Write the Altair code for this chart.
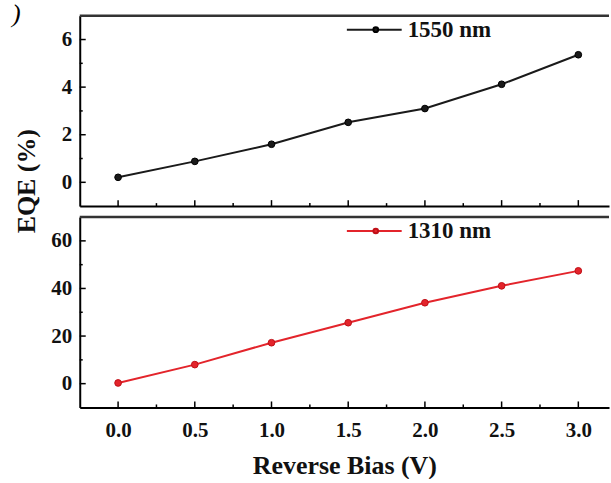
import altair as alt
import pandas as pd

bias = [0.0, 0.5, 1.0, 1.5, 2.0, 2.5, 3.0]
eqe_1550 = [0.21, 0.88, 1.60, 2.52, 3.10, 4.12, 5.36]
eqe_1310 = [0.3, 8.0, 17.2, 25.6, 34.0, 41.1, 47.4]
x_major = [0.0, 0.5, 1.0, 1.5, 2.0, 2.5, 3.0]
x_minor = [0.25, 0.75, 1.25, 1.75, 2.25, 2.75]
top_major = [0, 2, 4, 6]
top_minor = [1, 3, 5]
bot_major = [0, 20, 40, 60]
bot_minor = [10, 30, 50]
series_labels = ["1550 nm", "1310 nm"]
y_title = "EQE (%)"
x_title = "Reverse Bias (V)"
panel_mark = ")"

W, H = 531, 191
FONT = "Liberation Serif"
xscale = alt.Scale(domain=[-0.25, 3.2], nice=False, zero=False)


def panel(values, color, stroke, ydom, ymaj, ymin, label, bottom, extras=()):
    yscale = alt.Scale(domain=ydom, nice=False, zero=False)
    axis_kw = dict(
        ticks=False, grid=False, domain=True, domainColor="black", domainWidth=2,
        labelFont=FONT, labelFontSize=21, labelFontWeight="bold", labelColor="#111",
    )
    if bottom:
        xaxis = alt.Axis(values=x_major, format=".1f", labels=True, title=x_title,
                         labelPadding=12, titleFont=FONT, titleFontSize=26,
                         titleFontWeight="bold", titleColor="#111", titlePadding=12,
                         **axis_kw)
    else:
        xaxis = alt.Axis(values=x_major, labels=False, title=None, **axis_kw)
    yaxis = alt.Axis(values=ymaj, format="d", title=None, labelPadding=8, **axis_kw)

    df = pd.DataFrame({"bias": bias, "eqe": values})
    line = alt.Chart(df).mark_line(color=color, strokeWidth=2).encode(
        x=alt.X("bias:Q", scale=xscale, axis=xaxis),
        y=alt.Y("eqe:Q", scale=yscale, axis=yaxis),
    )
    pts = alt.Chart(df).mark_circle(size=45, color=color, stroke=stroke,
                                    strokeWidth=1, opacity=1).encode(
        x=alt.X("bias:Q"),
        y=alt.Y("eqe:Q"),
    )
    layers = [line, pts]
    for vals, ln in ((x_major, 6), (x_minor, 3)):
        layers.append(
            alt.Chart(pd.DataFrame({"bias": vals})).mark_rule(color="black", strokeWidth=1.5).encode(
                x=alt.X("bias:Q"),
                y=alt.value(H), y2=alt.value(H - ln),
            )
        )
    for vals, ln in ((ymaj, 6), (ymin, 3)):
        layers.append(
            alt.Chart(pd.DataFrame({"eqe": vals})).mark_rule(color="black", strokeWidth=1.5).encode(
                y=alt.Y("eqe:Q"),
                x=alt.value(0), x2=alt.value(ln),
            )
        )
    one = pd.DataFrame({"label": [label]})
    layers.append(alt.Chart(one).mark_rule(color="#333", strokeWidth=2.5).encode(
        x=alt.value(0), x2=alt.value(W), y=alt.value(0)))
    layers.append(alt.Chart(one).mark_rule(color=color, strokeWidth=2).encode(
        x=alt.value(268), x2=alt.value(323), y=alt.value(14)))
    layers.append(alt.Chart(one).mark_circle(size=22, color=color, stroke=stroke,
                                             opacity=1).encode(
        x=alt.value(297), y=alt.value(14)))
    layers.append(alt.Chart(one).mark_text(align="left", baseline="middle", font=FONT,
                                           fontSize=23, fontWeight="bold", color="#111").encode(
        x=alt.value(329), y=alt.value(14), text="label:N"))
    layers.extend(extras)
    return alt.layer(*layers).properties(width=W, height=H)


paren = alt.Chart(pd.DataFrame({"t": [panel_mark]})).mark_text(
    align="left", baseline="bottom", font=FONT, fontSize=26, fontStyle="italic",
    color="black").encode(x=alt.value(-68), y=alt.value(11), text="t:N")
ytitle = alt.Chart(pd.DataFrame({"t": [y_title]})).mark_text(
    angle=270, align="center", baseline="middle", font=FONT, fontSize=26,
    fontWeight="bold", color="#111").encode(x=alt.value(-53), y=alt.value(166), text="t:N")

top = panel(eqe_1550, "#1a1a1a", "#000000", [-1, 7], top_major, top_minor,
            series_labels[0], False, extras=(paren, ytitle))
bot = panel(eqe_1310, "#e3242b", "#c01018", [-10, 70], bot_major, bot_minor,
            series_labels[1], True)

chart = alt.vconcat(top, bot, spacing=11, bounds="flush").properties(
    padding={"left": 12, "top": 0, "right": 0, "bottom": 0},
    background="white",
).configure_view(stroke=None)

chart.save("out.html", embed_options={"renderer": "svg", "actions": False})
